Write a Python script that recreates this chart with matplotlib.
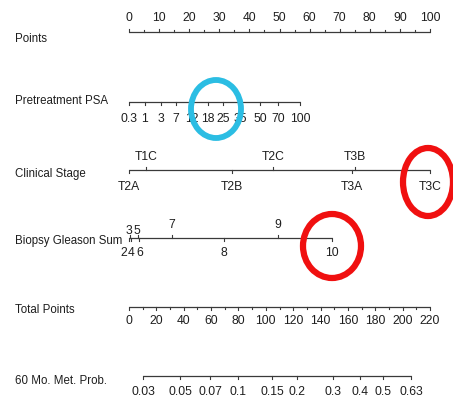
import matplotlib
matplotlib.use("Agg")
import matplotlib.pyplot as plt
from matplotlib.patches import Ellipse

plt.rcParams["font.family"] = ["Liberation Sans", "DejaVu Sans"]

# ---- nomogram scales (positions in points, 0-100) ----
points_ticks = list(range(0, 101, 5))
points_labels = list(range(0, 101, 10))

psa_labels = ["0.3", "1", "3", "7", "12", "18", "25", "35", "50", "70", "100"]
psa_points = [0, 5.3, 10.6, 15.6, 21.0, 26.2, 31.2, 36.9, 43.5, 49.5, 56.8]

stage_labels = ["T2A", "T1C", "T2B", "T2C", "T3A", "T3B", "T3C"]
stage_points = [0, 5.6, 34.2, 48.0, 74.1, 75.1, 100]
stage_side = ["below", "above", "below", "above", "below", "above", "below"]

gleason_labels = ["2", "3", "4", "5", "6", "7", "8", "9", "10"]
gleason_points = [0, 0.3, 0.7, 3.0, 3.3, 14.3, 31.6, 49.5, 67.5]
gleason_side = ["below", "above", "below", "above", "below", "above", "below", "above", "below"]

total_max = 220
total_ticks = list(range(0, 221, 10))
total_labels = list(range(0, 221, 20))

prob_labels = ["0.03", "0.05", "0.07", "0.1", "0.15", "0.2", "0.3", "0.4", "0.5", "0.63"]
prob_total = [10.2, 37.3, 59.2, 79.7, 104.5, 122.8, 149.1, 168.8, 185.6, 206.1]

row_names = ["Points", "Pretreatment PSA", "Clinical Stage", "Biopsy Gleason Sum",
             "Total Points", "60 Mo. Met. Prob."]

# ---- layout ----
W, H = 453, 402
x0_px, x1_px = 129, 430          # pixel span of the 0-100 points axis
ppx = 100 / (x1_px - x0_px)      # points per pixel
line_c = "#3a3a3a"
text_c = "#1e1e1e"
lab_fs = 8.3
tick_fs = 8.7

fig = plt.figure(figsize=(W / 100, H / 100), dpi=100)
ax = fig.add_axes([0, 0, 1, 1])
ax.set_xlim(-x0_px * ppx, (W - x0_px) * ppx)
ax.set_ylim(H, 0)
ax.axis("off")

row_y = [33, 103, 171, 239, 308, 377]
row_dy = [6, -2, 3, 2, 2, 4]
for name, y, dy in zip(row_names, row_y, row_dy):
    ax.text(-114 * ppx, y + dy, name, fontsize=lab_fs, color=text_c,
            ha="left", va="center")


def hline(y, a, b):
    ax.plot([a, b], [y, y], color=line_c, lw=0.9, solid_capstyle="butt")


def tick(x, y, up, length=3.0):
    ax.plot([x, x], [y, y - length if up else y + length], color=line_c, lw=0.8)


# Points
y = row_y[0]
hline(y, 0, 100)
for p in points_ticks:
    tick(p, y, True, 3.2 if p % 10 == 0 else 2.2)
for p in points_labels:
    ax.text(p, y - 15, str(p), fontsize=tick_fs, color=text_c, ha="center", va="center")

# Pretreatment PSA
y = row_y[1]
hline(y, 0, psa_points[-1])
for p, lab in zip(psa_points, psa_labels):
    tick(p, y, False)
    ax.text(p, y + 16, lab, fontsize=tick_fs, color=text_c, ha="center", va="center")

# Clinical stage
y = row_y[2]
hline(y, 0, 100)
for p, lab, side in zip(stage_points, stage_labels, stage_side):
    up = side == "above"
    tick(p, y, up)
    ax.text(p, y - 14 if up else y + 16, lab, fontsize=tick_fs, color=text_c,
            ha="center", va="center")

# Biopsy Gleason sum (small pixel nudges keep the crowded low labels apart)
nudge = {"2": -5.5, "3": -0.9, "4": 0.0, "5": -1.5, "6": 0.8}
y = row_y[3]
hline(y, 0, gleason_points[-1])
for p, lab, side in zip(gleason_points, gleason_labels, gleason_side):
    up = side == "above"
    tick(p, y, up)
    ty = (y - 8 if p < 5 else y - 14) if up else y + 14
    ax.text(p + nudge.get(lab, 0) * ppx, ty, lab, fontsize=tick_fs, color=text_c,
            ha="center", va="center")

# Total points
y = row_y[4]
scale = 100 / total_max
hline(y, 0, 100)
for t in total_ticks:
    tick(t * scale, y, False, 3.2 if t % 20 == 0 else 2.2)
for t in total_labels:
    ax.text(t * scale, y + 13, str(t), fontsize=tick_fs, color=text_c,
            ha="center", va="center")

# 60 month metastasis probability
y = row_y[5]
hline(y, prob_total[0] * scale, prob_total[-1] * scale)
for t, lab in zip(prob_total, prob_labels):
    tick(t * scale, y, False)
    ax.text(t * scale, y + 15, lab, fontsize=tick_fs, color=text_c,
            ha="center", va="center")

# highlight rings drawn over the scales
ov = fig.add_axes([0, 0, 1, 1], facecolor="none")
ov.set_xlim(0, W)
ov.set_ylim(H, 0)
ov.axis("off")
ov.add_patch(Ellipse((216, 110), 50, 58, fill=False, ec="#2bbde3", lw=4.2))
ov.add_patch(Ellipse((428, 183), 50, 68, fill=False, ec="#f01010", lw=4.5))
ov.add_patch(Ellipse((332, 247), 58, 64, fill=False, ec="#f01010", lw=4.5))

fig.savefig("out.png", dpi=100)
